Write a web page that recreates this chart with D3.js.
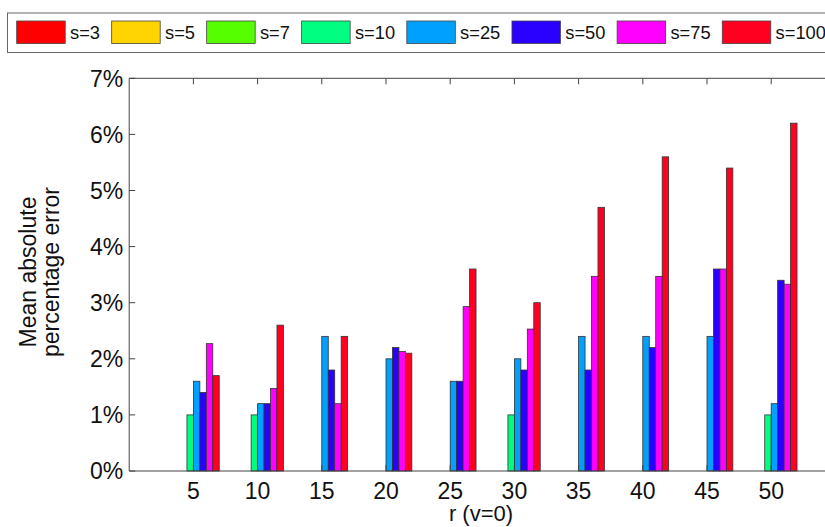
<!DOCTYPE html>
<html lang="en">
  <head>
    <meta charset="utf-8">
    <title></title>
    <style>
      body { margin: 0; background: #fff; }
      svg { display: block; font-family: "Liberation Sans", Arial, sans-serif; }
    </style>
  </head>
  <body>
    <svg width="825" height="527"></svg>
  </body>
  <script src="https://cdn.jsdelivr.net/npm/d3@7"></script>
  <script type="text/javascript">

    // r values (group labels) and s series
    const rValues = [5, 10, 15, 20, 25, 30, 35, 40, 45, 50]
    const seriesNames = ["s=3", "s=5", "s=7", "s=10", "s=25", "s=50", "s=75", "s=100"]
    const seriesColors = ["#ff0000", "#ffd400", "#55ff00", "#00ff80", "#00a0ff", "#2a00ff", "#ff00ff", "#ff0020"]

    // mean absolute percentage error (%), one array per s
    const s3   = [0, 0, 0, 0, 0, 0, 0, 0, 0, 0]
    const s5   = [0, 0, 0, 0, 0, 0, 0, 0, 0, 0]
    const s7   = [0, 0, 0, 0, 0, 0, 0, 0, 0, 0]
    const s10  = [1.0, 1.0, 0, 0, 0, 1.0, 0, 0, 0, 1.0]
    const s25  = [1.6, 1.2, 2.4, 2.0, 1.6, 2.0, 2.4, 2.4, 2.4, 1.2]
    const s50  = [1.4, 1.2, 1.8, 2.2, 1.6, 1.8, 1.8, 2.2, 3.6, 3.4]
    const s75  = [2.27, 1.47, 1.2, 2.13, 2.93, 2.53, 3.47, 3.47, 3.6, 3.33]
    const s100 = [1.7, 2.6, 2.4, 2.1, 3.6, 3.0, 4.7, 5.6, 5.4, 6.2]
    const series = [s3, s5, s7, s10, s25, s50, s75, s100]

    const yTicks = [0, 1, 2, 3, 4, 5, 6, 7]

    const svg = d3.select("svg"),
          axisColor = "#444",
          margin = {top: 78.3, bottom: 471, left: 129.2}

    // x in category units: group i at position i+1, axis spans 0..11 (cut off at right)
    const x = d3.scaleLinear().domain([0, 11]).range([margin.left, margin.left + 11 * 64.2]),
          y = d3.scaleLinear().domain([0, 7]).range([margin.bottom, margin.top])

    const groupWidth = 0.805,
          barW = groupWidth / seriesNames.length

    // plot box
    svg.append("rect")
      .attr("x", x(0)).attr("y", y(7))
      .attr("width", x(11) - x(0)).attr("height", y(0) - y(7))
      .style("fill", "#fff")

    // bars
    series.forEach((vals, si) => {
      svg.append("g").selectAll("rect")
        .data(vals.map((v, i) => ({v, i})).filter(d => d.v > 0))
        .enter()
        .append("rect")
          .attr("x", d => x(d.i + 1 - groupWidth / 2 + si * barW))
          .attr("y", d => y(d.v))
          .attr("width", x(barW) - x(0))
          .attr("height", d => y(0) - y(d.v))
          .style("fill", seriesColors[si])
          .style("stroke", "#333")
          .style("stroke-width", 0.8)
    })

    // axes lines and ticks (inward)
    const ax = svg.append("g").style("stroke", axisColor).style("stroke-width", 1).style("fill", "none")
    ax.append("path").attr("d", `M${x(11)},${y(7)}H${x(0)}V${y(0)}H${x(11)}`)

    ax.selectAll(".yt").data(yTicks).enter().append("line")
      .attr("x1", x(0)).attr("x2", x(0) + 6)
      .attr("y1", d => y(d)).attr("y2", d => y(d))

    ax.selectAll(".xt").data(rValues).enter().append("line")
      .attr("x1", (d, i) => x(i + 1)).attr("x2", (d, i) => x(i + 1))
      .attr("y1", y(7)).attr("y2", y(7) + 6)

    ax.selectAll(".xb").data(rValues).enter().append("line")
      .attr("x1", (d, i) => x(i + 1)).attr("x2", (d, i) => x(i + 1))
      .attr("y1", y(0)).attr("y2", y(0) - 6)

    // tick labels
    svg.selectAll(".ylab").data(yTicks).enter().append("text")
      .text(d => d + "%")
      .attr("x", x(0) - 6)
      .attr("y", d => y(d))
      .attr("dy", "0.36em")
      .style("text-anchor", "end")
      .style("font-size", "23px")
      .style("fill", "#111")

    svg.selectAll(".xlab").data(rValues).enter().append("text")
      .text(d => d)
      .attr("x", (d, i) => x(i + 1))
      .attr("y", 499)
      .style("text-anchor", "middle")
      .style("font-size", "23px")
      .style("fill", "#111")

    // axis titles
    svg.append("text")
      .text("r (v=0)")
      .attr("x", 481)
      .attr("y", 521)
      .style("text-anchor", "middle")
      .style("font-size", "22px")
      .style("fill", "#111")

    const yt = svg.append("text")
      .attr("transform", `translate(36,272) rotate(-90)`)
      .style("text-anchor", "middle")
      .style("font-size", "23px")
      .style("fill", "#111")
    yt.append("tspan").attr("x", 0).attr("y", 0).text("Mean absolute")
    yt.append("tspan").attr("x", 0).attr("y", 23).text("percentage error")

    // legend
    const leg = svg.append("g")
    leg.append("rect")
      .attr("x", 7.5).attr("y", 13)
      .attr("width", 840).attr("height", 39.5)
      .style("fill", "#fff")
      .style("stroke", "#666")
      .style("stroke-width", 1)

    let lx = 16.7
    seriesNames.forEach((name, i) => {
      leg.append("rect")
        .attr("x", lx).attr("y", 21)
        .attr("width", 48.5).attr("height", 22.5)
        .style("fill", seriesColors[i])
        .style("stroke", "#444")
        .style("stroke-width", 0.8)
      const t = leg.append("text")
        .text(name)
        .attr("x", lx + 53.3)
        .attr("y", 32.3)
        .attr("dy", "0.36em")
        .style("font-size", "18.3px")
        .style("fill", "#111")
      lx = lx + 53.3 + t.node().getComputedTextLength() + 11.7
    })

  </script>
</html>
